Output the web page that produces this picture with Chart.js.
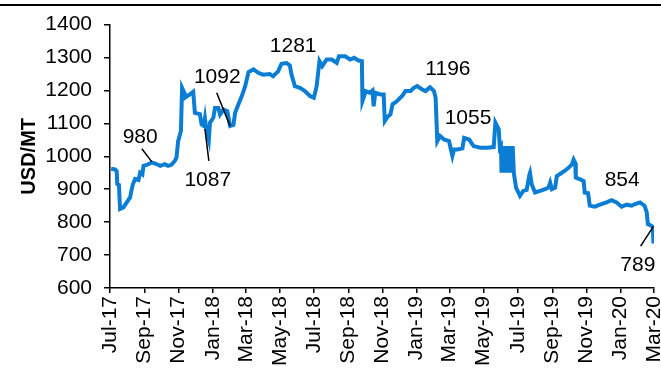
<!DOCTYPE html>
<html>
<head>
<meta charset="utf-8">
<script src="https://cdn.jsdelivr.net/npm/chart.js@4.4.1/dist/chart.umd.min.js"></script>
<style>
  html, body { margin: 0; padding: 0; background: #fff; }
  #chart { display: block; }
</style>
</head>
<body>
<canvas id="chart" width="661" height="370"></canvas>
<script>
// price series
const dates = [
  "2017-07-03","2017-07-10","2017-07-13","2017-07-14","2017-07-17","2017-07-19","2017-07-25","2017-07-31",
  "2017-08-06","2017-08-09","2017-08-11","2017-08-15","2017-08-21","2017-08-24","2017-08-28","2017-08-30",
  "2017-09-05","2017-09-14","2017-09-20","2017-09-29","2017-10-07","2017-10-13","2017-10-19","2017-10-25",
  "2017-10-28","2017-10-31","2017-11-05","2017-11-07","2017-11-11","2017-11-12","2017-11-21","2017-11-27",
  "2017-11-30","2017-12-09","2017-12-12","2017-12-16","2017-12-18","2017-12-20","2017-12-25","2017-12-27",
  "2018-01-02","2018-01-05","2018-01-11","2018-01-14","2018-01-20","2018-01-27","2018-02-01","2018-02-07",
  "2018-02-10","2018-02-16","2018-02-22","2018-02-28","2018-03-06","2018-03-15","2018-03-24","2018-04-01",
  "2018-04-13","2018-04-19","2018-04-28","2018-05-04","2018-05-13","2018-05-19","2018-05-22","2018-05-28",
  "2018-06-06","2018-06-15","2018-06-24","2018-07-01","2018-07-06","2018-07-11","2018-07-16","2018-07-24",
  "2018-08-02","2018-08-11","2018-08-15","2018-08-26","2018-09-04","2018-09-11","2018-09-19","2018-09-25",
  "2018-09-26","2018-10-02","2018-10-09","2018-10-14","2018-10-16","2018-10-19","2018-10-28","2018-11-03",
  "2018-11-05","2018-11-11","2018-11-15","2018-11-19","2018-11-27","2018-12-06","2018-12-12","2018-12-21",
  "2018-12-27","2019-01-02","2019-01-11","2019-01-17","2019-01-25","2019-02-01","2019-02-04","2019-02-07",
  "2019-02-12","2019-02-19","2019-02-28","2019-03-06","2019-03-09","2019-03-15","2019-03-24","2019-03-27",
  "2019-04-05","2019-04-13","2019-04-25","2019-05-07","2019-05-19","2019-05-22","2019-05-28","2019-05-30",
  "2019-06-01","2019-06-02","2019-06-04","2019-06-05","2019-06-07","2019-06-08","2019-06-10","2019-06-11",
  "2019-06-13","2019-06-14","2019-06-16","2019-06-17","2019-06-19","2019-06-20","2019-06-22","2019-06-24",
  "2019-06-28","2019-07-05","2019-07-11","2019-07-17","2019-07-22","2019-07-23","2019-07-26","2019-08-01",
  "2019-08-10","2019-08-19","2019-08-25","2019-08-28","2019-08-31","2019-09-06","2019-09-09","2019-09-18",
  "2019-09-24","2019-09-30","2019-10-06","2019-10-09","2019-10-12","2019-10-13","2019-10-21","2019-10-27",
  "2019-10-29","2019-11-04","2019-11-07","2019-11-16","2019-11-25","2019-12-07","2019-12-16","2019-12-25",
  "2020-01-03","2020-01-12","2020-01-21","2020-01-27","2020-02-05","2020-02-13","2020-02-17","2020-02-19",
  "2020-02-25","2020-02-28","2020-02-29"
];
const prices = [
  962, 960, 955, 916, 913, 840, 845, 860,
  875, 901, 915, 931, 928, 950, 945, 971,
  974, 981, 978, 971, 976, 971, 974, 986,
  996, 1046, 1077, 1208, 1193, 1178, 1188, 1196,
  1132, 1128, 1097, 1092, 1115, 1087, 1051, 1102,
  1117, 1147, 1147, 1127, 1142, 1137, 1092, 1095,
  1132, 1158, 1183, 1213, 1256, 1264, 1253, 1248,
  1250, 1243, 1258, 1281, 1283, 1276, 1248, 1213,
  1208, 1198, 1183, 1178, 1213, 1289, 1274, 1294,
  1294, 1284, 1304, 1304, 1294, 1299, 1291, 1289,
  1168, 1198, 1193, 1200, 1152, 1193, 1188, 1188,
  1107, 1122, 1127, 1158, 1168, 1183, 1198, 1198,
  1208, 1213, 1203, 1198, 1210, 1198, 1178, 1046,
  1062, 1051, 1046, 1001, 1021, 1021, 1024, 1056,
  1051, 1031, 1026, 1026, 1028, 1102, 1082, 1026,
  1031, 950, 1031, 950, 1031, 950, 1031, 950,
  1031, 950, 1031, 950, 1031, 950, 1031, 950,
  905, 880, 895, 898, 945, 950, 915, 890,
  895, 900, 905, 920, 900, 905, 940, 950,
  957, 965, 975, 990, 980, 935, 930, 925,
  890, 888, 850, 847, 853, 860, 867, 860,
  847, 853, 850, 855, 860, 850, 830, 794,
  789, 785, 735
];

const tickDates = ["2017-07-01","2017-09-01","2017-11-01","2018-01-01","2018-03-01","2018-05-01",
  "2018-07-01","2018-09-01","2018-11-01","2019-01-01","2019-03-01","2019-05-01","2019-07-01",
  "2019-09-01","2019-11-01","2020-01-01","2020-03-01"];
const tickLabels = ["Jul-17","Sep-17","Nov-17","Jan-18","Mar-18","May-18","Jul-18","Sep-18","Nov-18",
  "Jan-19","Mar-19","May-19","Jul-19","Sep-19","Nov-19","Jan-20","Mar-20"];

// call-out labels: text placed at a date/value, optional leader line
const notes = [
  { text: "980",  at: ["2017-08-24", 1059], from: ["2017-08-27", 1023], to: ["2017-09-14", 983] },
  { text: "1087", at: ["2017-12-23", 926],  from: ["2017-12-25", 986],  to: ["2017-12-18", 1083] },
  { text: "1092", at: ["2018-01-09", 1240], from: ["2018-01-08", 1193], to: ["2018-02-01", 1092] },
  { text: "1281", at: ["2018-05-25", 1334] },
  { text: "1196", at: ["2019-02-26", 1265] },
  { text: "1055", at: ["2019-04-03", 1116] },
  { text: "854",  at: ["2020-01-04", 926] },
  { text: "789",  at: ["2020-02-01", 670],  from: ["2020-02-06", 727],  to: ["2020-02-29", 787] }
];

const start = Date.parse("2017-07-01");
const dayOf = d => (Date.parse(d) - start) / 864e5;
const tickDays = tickDates.map(dayOf);
const points = dates.map((d, i) => ({ x: dayOf(d), y: prices[i] }));

const FONT = '"Liberation Sans", Arial, sans-serif';

const notesPlugin = {
  id: 'notes',
  afterDatasetsDraw(chart) {
    const { ctx, scales: { x, y } } = chart;
    ctx.save();
    ctx.strokeStyle = '#000';
    ctx.lineWidth = 1.5;
    ctx.fillStyle = '#000';
    ctx.font = '21px ' + FONT;
    ctx.textAlign = 'center';
    ctx.textBaseline = 'middle';
    notes.forEach(n => {
      if (n.from) {
        ctx.beginPath();
        ctx.moveTo(x.getPixelForValue(dayOf(n.from[0])), y.getPixelForValue(n.from[1]));
        ctx.lineTo(x.getPixelForValue(dayOf(n.to[0])), y.getPixelForValue(n.to[1]));
        ctx.stroke();
      }
      ctx.fillText(n.text, x.getPixelForValue(dayOf(n.at[0])), y.getPixelForValue(n.at[1]));
    });
    ctx.restore();
  },
  afterDraw(chart) {
    // rule across the top of the figure
    const ctx = chart.ctx;
    ctx.save();
    ctx.fillStyle = '#000';
    ctx.fillRect(0, 4, chart.width, 2);
    ctx.restore();
  }
};

new Chart(document.getElementById('chart'), {
  type: 'line',
  data: {
    datasets: [{
      data: points,
      borderColor: '#0b7dd5',
      borderWidth: 4,
      pointRadius: 0,
      tension: 0,
      fill: false
    }]
  },
  options: {
    responsive: false,
    animation: false,
    layout: { padding: { top: 23, right: 7, bottom: 0, left: 0 } },
    plugins: { legend: { display: false }, tooltip: { enabled: false } },
    scales: {
      x: {
        type: 'linear',
        min: 0,
        max: tickDays[tickDays.length - 1],
        afterBuildTicks: scale => { scale.ticks = tickDays.map(v => ({ value: v })); },
        afterFit: scale => { scale.height = 82; scale.paddingLeft = 0; scale.paddingRight = 0; },
        border: { color: '#000', width: 1.5 },
        grid: { drawOnChartArea: false, color: '#000', lineWidth: 1.5, tickLength: 5 },
        ticks: {
          autoSkip: false,
          minRotation: 90,
          maxRotation: 90,
          padding: 3,
          color: '#000',
          font: { family: FONT, size: 21 },
          callback: (v, i) => tickLabels[i]
        }
      },
      y: {
        min: 600,
        max: 1400,
        afterFit: scale => { scale.width = 110; },
        border: { color: '#000', width: 1.5 },
        grid: { drawOnChartArea: false, color: '#000', lineWidth: 1.5, tickLength: 6 },
        ticks: {
          stepSize: 100,
          padding: 12,
          color: '#000',
          font: { family: FONT, size: 21 },
          callback: v => String(v)
        },
        title: {
          display: true,
          text: 'USD/MT',
          color: '#000',
          padding: { top: 17, bottom: 0 },
          font: { family: FONT, size: 20, weight: 'bold' }
        }
      }
    }
  },
  plugins: [notesPlugin]
});
</script>
</body>
</html>
